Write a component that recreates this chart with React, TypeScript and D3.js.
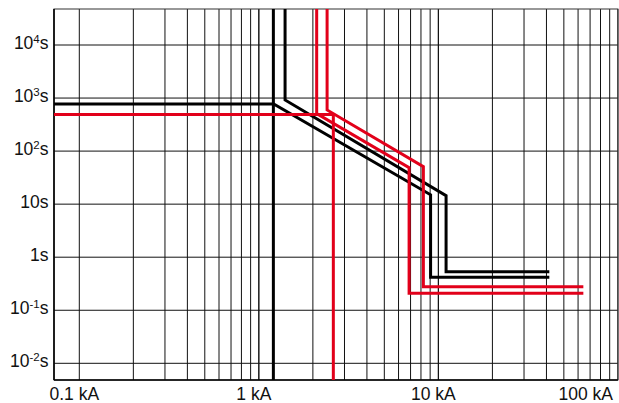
import React from "react";
import * as d3 from "d3";

// Axis ticks
const xMajorTicks = [0.1, 1, 10, 100];
const xTickLabels = ["0.1 kA", "1 kA", "10 kA", "100 kA"];
const yTicks = [1e4, 1e3, 1e2, 10, 1, 0.1, 0.01];
const yTickBase = ["10", "10", "10", "10s", "1s", "10", "10"];
const yTickSup = ["4", "3", "2", "", "", "-1", "-2"];

// Curves (current in kA, time in s)
const TOP = 1e5;
const BOTTOM = 1e-3;
const blackInnerI = [0.05, 1.21, 9.05, 9.05, 41.5];
const blackInnerT = [772, 772, 15, 0.418, 0.418];
const blackInstI = [1.205, 1.205];
const blackInstT = [TOP, BOTTOM];
const blackOuterI = [1.4, 1.4, 11.04, 11.04, 41.5];
const blackOuterT = [TOP, 919, 14.5, 0.533, 0.533];
const redInnerI = [2.1, 2.1, 6.87, 6.87, 64.2];
const redInnerT = [TOP, 510, 48.7, 0.209, 0.209];
const redOuterI = [2.4, 2.4, 8.25, 8.25, 64.2];
const redOuterT = [TOP, 595, 50.8, 0.278, 0.278];
const redInstI = [0.05, 2.6, 2.6];
const redInstT = [490, 490, BOTTOM];

const W = 619;
const H = 403;
const L = 54;
const R = 617.9;
const T = 9;
const B = 380;

const BLACK = "#000000";
const RED = "#e2001a";

export default function App() {
  // x: 0.1 -> 79.3, 100 -> 617.9
  const dec = (617.9 - 79.3) / 3;
  const xMin = 0.1 * Math.pow(10, (L - 79.3) / dec);
  const x = d3.scaleLog().domain([xMin, 100]).range([L, R]);
  // y: 1e4 -> 45, 1e-2 -> 363.3
  const ydec = (363.3 - 45) / 6;
  const yMax = 1e4 * Math.pow(10, (45 - T) / ydec);
  const yMin = 1e-2 * Math.pow(10, -(B - 363.3) / ydec);
  const y = d3.scaleLog().domain([yMin, yMax]).range([B, T]);

  const minorX: number[] = [];
  for (const d of [0.1, 1, 10]) {
    for (let k = 1; k <= 10; k++) minorX.push(d * k);
  }

  const line = d3
    .line<[number, number]>()
    .x((d) => x(d[0]))
    .y((d) => y(d[1]));
  const mk = (I: number[], t: number[]) =>
    line(I.map((v, i) => [v, t[i]] as [number, number])) || "";

  const curves = [
    { I: blackInnerI, t: blackInnerT, c: BLACK },
    { I: blackOuterI, t: blackOuterT, c: BLACK },
    { I: blackInstI, t: blackInstT, c: BLACK },
    { I: redInstI, t: redInstT, c: RED },
    { I: redInnerI, t: redInnerT, c: RED },
    { I: redOuterI, t: redOuterT, c: RED },
  ];

  const font = "'Liberation Sans', Arial, Helvetica, sans-serif";

  return (
    <svg
      width={W}
      height={H}
      style={{ position: "absolute", left: 0, top: 0, background: "#fff" }}
    >
      <defs>
        <clipPath id="plotclip">
          <rect x={L} y={T} width={R - L} height={B - T} />
        </clipPath>
      </defs>
      <rect x={0} y={0} width={W} height={H} fill="#fff" />
      {/* grid */}
      {minorX.map((v, i) => (
        <line
          key={"gx" + i}
          x1={x(v)}
          x2={x(v)}
          y1={T}
          y2={B}
          stroke="#111"
          strokeWidth={1}
        />
      ))}
      {yTicks.map((v, i) => (
        <line
          key={"gy" + i}
          x1={L}
          x2={R}
          y1={y(v)}
          y2={y(v)}
          stroke="#111"
          strokeWidth={1}
        />
      ))}
      {/* frame */}
      <rect x={L} y={T} width={R - L} height={B - T} fill="none" stroke="#333" strokeWidth={1} />
      <line x1={L} x2={L} y1={T} y2={B} stroke="#000" strokeWidth={1.6} />
      <line x1={L} x2={R} y1={B} y2={B} stroke="#000" strokeWidth={1.6} />
      {/* curves */}
      <g clipPath="url(#plotclip)">
        {curves.map((c, i) => (
          <path
            key={"c" + i}
            d={mk(c.I, c.t)}
            fill="none"
            stroke={c.c}
            strokeWidth={3}
            strokeLinejoin="miter"
          />
        ))}
      </g>
      {/* y labels */}
      {yTicks.map((v, i) => (
        <text
          key={"yl" + i}
          x={48.5}
          y={y(v) + 4}
          textAnchor="end"
          fontFamily={font}
          fontSize={17.5}
          fill="#111"
        >
          {yTickBase[i]}
          {yTickSup[i] !== "" && (
            <>
              <tspan fontSize={11.5} dy={-6}>
                {yTickSup[i]}
              </tspan>
              <tspan fontSize={17.5} dy={6}>
                s
              </tspan>
            </>
          )}
        </text>
      ))}
      {/* x labels */}
      {xMajorTicks.map((v, i) => {
        const last = i === xMajorTicks.length - 1;
        return (
          <text
            key={"xl" + i}
            x={last ? 613 : x(v) - 5}
            y={400}
            textAnchor={last ? "end" : "middle"}
            fontFamily={font}
            fontSize={17.5}
            fill="#111"
          >
            {xTickLabels[i]}
          </text>
        );
      })}
    </svg>
  );
}
